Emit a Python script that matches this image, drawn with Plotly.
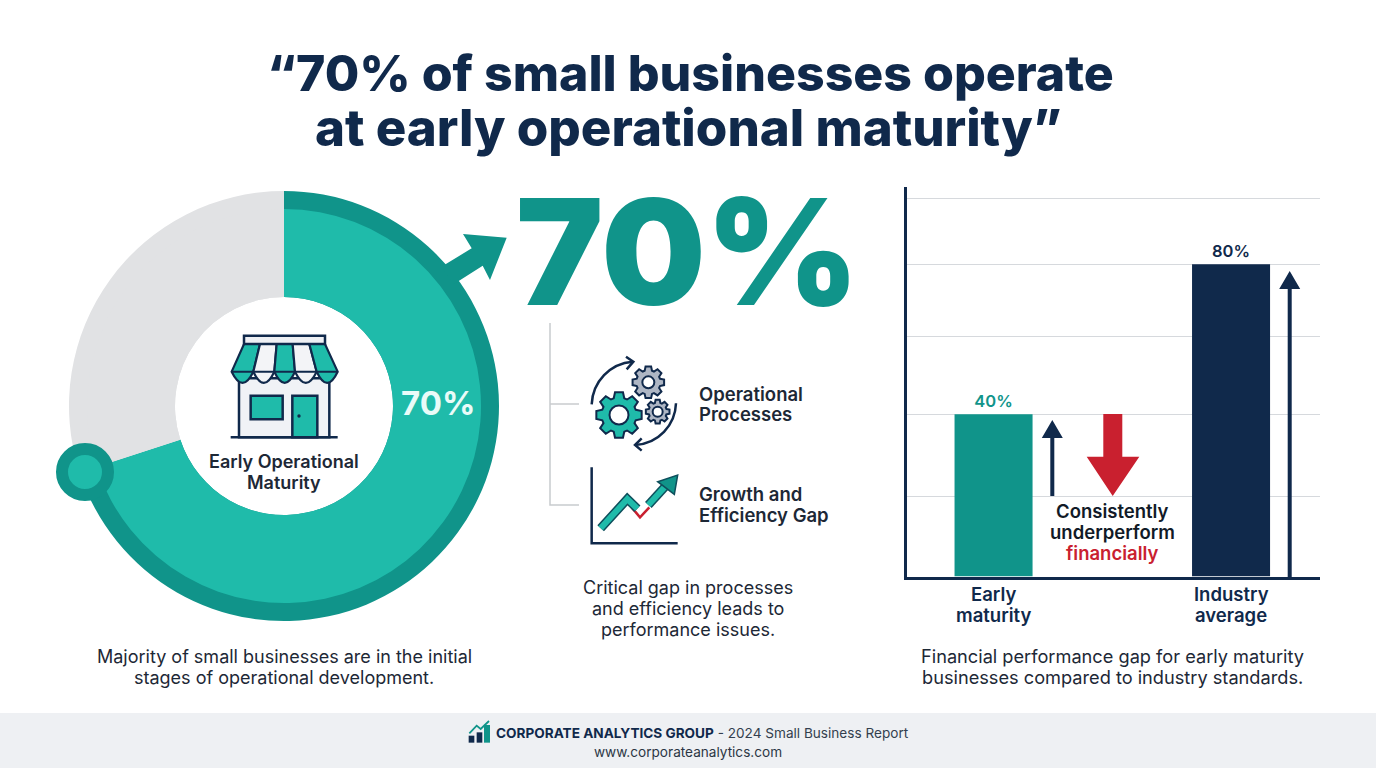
import math
import plotly.graph_objects as go

W = 1376
H = 768

TEAL = "#10948A"
LIGHT_TEAL = "#1FBBAA"
NAVY = "#10294B"
GREY = "#E1E2E4"
GRID = "#D6D9DD"
RED = "#C9202F"
INK = "#1D2836"
FONT = "Inter"

# donut
share_labels = ["Early operational maturity", "Other"]
share_values = [70, 30]

bar_categories = ["Early maturity", " ", "Industry average"]
bar_values = [41.6, None, 80]
bar_labels = ["40%", "", "80%"]
grid_values = [20.6, 41.6, 61.6, 80, 96.9]
y_top = 99.8

title_lines = ["“70% of small businesses operate", "at early operational maturity”"]
left_caption = ["Majority of small businesses are in the initial", "stages of operational development."]
mid_caption = ["Critical gap in processes", "and efficiency leads to", "performance issues."]
right_caption = ["Financial performance gap for early maturity", "businesses compared to industry standards."]
callout = ["Consistently", "underperform"]

shapes = []
annotations = []


def px(x):
    return x / W


def py(y):
    return 1 - y / H


def path(cmds, fill=None, line=None, width=0):
    # cmds is a list of (letter, [x, y, x, y...]) in screen pixels
    d = ""
    for letter, nums in cmds:
        d += letter
        pairs = []
        for i in range(0, len(nums), 2):
            pairs.append(f"{px(nums[i]):.5f},{py(nums[i + 1]):.5f}")
        d += " ".join(pairs)
    shape = {"type": "path", "path": d, "xref": "paper", "yref": "paper"}
    shape["fillcolor"] = fill if fill else "rgba(0,0,0,0)"
    shape["line"] = {"color": line if line else "rgba(0,0,0,0)", "width": width}
    shapes.append(shape)


def poly(pts, fill=None, line=None, width=0, close=True):
    cmds = [("M", list(pts[0]))]
    for p in pts[1:]:
        cmds.append(("L", list(p)))
    if close:
        cmds.append(("Z", []))
    path(cmds, fill, line, width)


def rect(x0, y0, x1, y1, fill=None, line=None, width=0):
    poly([(x0, y0), (x1, y0), (x1, y1), (x0, y1)], fill, line, width)


def circle(cx, cy, r, fill=None, line=None, width=0):
    shapes.append(
        {
            "type": "circle",
            "xref": "paper",
            "yref": "paper",
            "x0": px(cx - r),
            "x1": px(cx + r),
            "y0": py(cy + r),
            "y1": py(cy - r),
            "fillcolor": fill if fill else "rgba(0,0,0,0)",
            "line": {"color": line if line else "rgba(0,0,0,0)", "width": width},
        }
    )


def label(text, x, y, size, color=INK, weight=400, anchor="center"):
    annotations.append(
        {
            "text": text,
            "x": px(x),
            "y": py(y),
            "xref": "paper",
            "yref": "paper",
            "showarrow": False,
            "xanchor": anchor,
            "yanchor": "middle",
            "font": {"family": FONT, "size": size, "color": color, "weight": weight},
        }
    )


def category_label(category):
    # two line tick label tied to the bar's category, tighter than a real tick label allows
    for i, word in enumerate(category.split(" ")):
        annotations.append(
            {
                "text": word,
                "x": category,
                "y": py(594 + 21 * i),
                "xref": "x",
                "yref": "paper",
                "showarrow": False,
                "xanchor": "center",
                "yanchor": "middle",
                "font": {"family": FONT, "size": 18.5, "color": NAVY, "weight": 600},
            }
        )


def up_arrow(x, y_bottom, y_tip, shaft, head, head_len, color):
    poly(
        [
            (x - shaft / 2, y_bottom),
            (x - shaft / 2, y_tip + head_len),
            (x - head / 2, y_tip + head_len),
            (x, y_tip),
            (x + head / 2, y_tip + head_len),
            (x + shaft / 2, y_tip + head_len),
            (x + shaft / 2, y_bottom),
        ],
        fill=color,
    )


def gear(cx, cy, r, hole, teeth, fill):
    pts = []
    step = 2 * math.pi / teeth
    for i in range(teeth):
        a = i * step
        for off, rad in [(-0.30, 0.76), (-0.17, 1.0), (0.17, 1.0), (0.30, 0.76)]:
            pts.append((cx + rad * r * math.cos(a + off * step * 1.3), cy + rad * r * math.sin(a + off * step * 1.3)))
    poly(pts, fill=fill, line=NAVY, width=2)
    circle(cx, cy, hole, fill="white", line=NAVY, width=2)


def store_icon():
    sx = lambda v: v / 3 + 40
    sy = lambda v: v / 3 + 170
    rect(sx(597), sy(625), sx(868), sy(802), fill="#F0F2F6", line=NAVY, width=2.5)
    top = [612, 660, 710, 758, 808, 855]
    bot = [575, 640, 703, 765, 830, 893]
    for i in range(5):
        color = LIGHT_TEAL if i % 2 == 0 else "#F3F4F7"
        mid = (bot[i] + bot[i + 1]) / 2
        path(
            [
                ("M", [sx(top[i]), sy(522)]),
                ("L", [sx(top[i + 1]), sy(522)]),
                ("L", [sx(bot[i + 1]), sy(605)]),
                ("Q", [sx(mid), sy(672), sx(bot[i]), sy(605)]),
                ("Z", []),
            ],
            fill=color,
            line=NAVY,
            width=2.2,
        )
    rect(sx(612), sy(497), sx(855), sy(522), fill="#EEF0F4", line=NAVY, width=2.5)
    poly([(sx(575), sy(605)), (sx(893), sy(605))], line=NAVY, width=2, close=False)
    rect(sx(632), sy(677), sx(728), sy(748), fill=LIGHT_TEAL, line=NAVY, width=2.5)
    rect(sx(757), sy(677), sx(832), sy(802), fill=LIGHT_TEAL, line=NAVY, width=2.5)
    circle(sx(777), sy(738), 1.7, fill=NAVY)
    poly([(sx(572), sy(802)), (sx(893), sy(802))], line=NAVY, width=2.5, close=False)


def gears_icon():
    sx = lambda v: v / 3 + 530
    sy = lambda v: v / 3 + 310
    gear(sx(267), sy(315), 23, 9.5, 8, LIGHT_TEAL)
    gear(sx(355), sy(217), 16, 6, 8, "#AEB6C4")
    gear(sx(383), sy(305), 12, 5, 8, "#AEB6C4")
    # circular arrows around the gears
    path(
        [("M", [sx(185), sy(283)]), ("C", [sx(188), sy(215), sx(240), sy(160), sx(308), sy(155)])],
        line=NAVY,
        width=2.5,
    )
    poly([(sx(288), sy(140)), (sx(310), sy(155)), (sx(290), sy(178))], line=NAVY, width=2.5, close=False)
    path(
        [("M", [sx(438), sy(280)]), ("C", [sx(436), sy(345), sx(385), sy(402), sx(315), sy(405)])],
        line=NAVY,
        width=2.5,
    )
    poly([(sx(335), sy(385)), (sx(315), sy(405)), (sx(335), sy(422))], line=NAVY, width=2.5, close=False)


def growth_icon():
    sx = lambda v: v / 3 + 530
    sy = lambda v: v / 3 + 310
    band = "#0E4F5C"
    poly([(sx(185), sy(472)), (sx(185), sy(700)), (sx(443), sy(700))], line=NAVY, width=2.5, close=False)
    poly([(sx(305), sy(592)), (sx(330), sy(622)), (sx(358), sy(592))], line=RED, width=2.5, close=False)
    poly([(sx(212), sy(655)), (sx(292), sy(567)), (sx(322), sy(596))], line=band, width=9, close=False)
    poly([(sx(212), sy(655)), (sx(292), sy(567)), (sx(322), sy(596))], line=LIGHT_TEAL, width=6, close=False)
    poly([(sx(355), sy(585)), (sx(405), sy(530))], line=band, width=9, close=False)
    poly([(sx(355), sy(585)), (sx(405), sy(530))], line=LIGHT_TEAL, width=6, close=False)
    poly([(sx(443), sy(495)), (sx(433), sy(553)), (sx(383), sy(515))], fill=TEAL, line=band, width=1.5)


def footer():
    rect(0, 713, W, H, fill="#EEF0F3")
    sx = lambda v: v / 3 + 440
    sy = lambda v: v / 3 + 705
    rect(sx(86), sy(92), sx(103), sy(113), fill=NAVY)
    rect(sx(110), sy(82), sx(127), sy(113), fill=NAVY)
    rect(sx(132), sy(60), sx(150), sy(113), fill=TEAL)
    poly([(sx(88), sy(85)), (sx(110), sy(62)), (sx(122), sy(72)), (sx(147), sy(48))], line=TEAL, width=1.8, close=False)
    label(
        "<b>CORPORATE ANALYTICS GROUP</b>"
        + "<span style='color:#333f4e'> - 2024 Small Business Report</span>",
        702.5,
        733,
        13.6,
        color=NAVY,
    )
    label("www.corporateanalytics.com", 688, 752, 13.6, color="#2B3644")


fig = go.Figure()

# outer ring, then the lighter fill on top of it
fig.add_trace(
    go.Pie(
        labels=share_labels,
        values=share_values,
        sort=False,
        direction="clockwise",
        rotation=0,
        hole=109 / 215,
        textinfo="none",
        marker={"colors": [TEAL, GREY], "line": {"width": 0}},
        domain={"x": [px(284 - 215), px(284 + 215)], "y": [py(406 + 215), py(406 - 215)]},
        showlegend=False,
    )
)
fig.add_trace(
    go.Pie(
        labels=share_labels,
        values=share_values,
        sort=False,
        direction="clockwise",
        rotation=0,
        hole=109 / 197,
        textinfo="none",
        marker={"colors": [LIGHT_TEAL, GREY], "line": {"width": 0}},
        domain={"x": [px(284 - 197), px(284 + 197)], "y": [py(406 + 197), py(406 - 197)]},
        showlegend=False,
    )
)

fig.add_trace(
    go.Bar(
        x=bar_categories,
        y=bar_values,
        text=bar_labels,
        textposition="outside",
        textfont={"family": FONT, "size": 16.5, "color": [TEAL, NAVY, NAVY], "weight": 600},
        cliponaxis=False,
        marker={"color": [TEAL, NAVY, NAVY], "line": {"width": 0}},
        width=0.657,
        showlegend=False,
    )
)

# ring arrow and the knob where the ring ends
poly(
    [
        (441, 267),
        (471.7, 248.3),
        (463, 234),
        (506.7, 237.7),
        (490, 280),
        (482.7, 265.7),
        (454, 284),
    ],
    fill=TEAL,
)
circle(85, 472, 23, fill=LIGHT_TEAL, line=TEAL, width=12)

store_icon()
gears_icon()
growth_icon()

# bracket in the middle column
poly([(550, 323), (550, 505), (579, 505)], line="#C8CBCE", width=1.5, close=False)
poly([(550, 404), (579, 404)], line="#C8CBCE", width=1.5, close=False)

# arrows beside the bars
up_arrow(1052.3, 496, 420, 4, 21, 18, NAVY)
up_arrow(1289.7, 578, 271, 4, 21, 18, NAVY)
poly(
    [
        (1103.3, 414),
        (1122.3, 414),
        (1122.3, 456.7),
        (1139.3, 456.7),
        (1112.7, 496),
        (1086.7, 456.7),
        (1103.3, 456.7),
    ],
    fill=RED,
)

footer()

label(title_lines[0], 690, 73, 50, color=NAVY, weight=800)
label(title_lines[1], 688, 127, 51, color=NAVY, weight=800)

label(f"{share_values[0]}%", 437.5, 403, 33, color="#E9FBF8", weight=700)
label("Early Operational", 284, 461, 18, weight=600)
label("Maturity", 284, 482, 18, weight=600)
label(f"{share_values[0]}%", 687, 251, 147, color=TEAL, weight=900)
label("Operational", 697, 393.5, 18.5, weight=600, anchor="left")
label("Processes", 697, 414, 18.5, weight=600, anchor="left")
label("Growth and", 697, 494, 18.5, weight=600, anchor="left")
label("Efficiency Gap", 697, 515, 18.5, weight=600, anchor="left")
for i, line in enumerate(left_caption):
    label(line, 284, 656 + 21 * i, 18)
for i, line in enumerate(mid_caption):
    label(line, 688, 587 + 21 * i, 18)
for i, line in enumerate(right_caption):
    label(line, 1112, 656 + 21 * i, 18.2)
for i, line in enumerate(callout):
    label(line, 1112, 511 + 21 * i, 18.5, color="#111a27", weight=600)
label("financially", 1112, 553, 18.5, color=RED, weight=600)
category_label(bar_categories[0])
category_label(bar_categories[2])

fig.update_layout(
    width=W,
    height=H,
    margin={"l": 0, "r": 0, "t": 0, "b": 0},
    paper_bgcolor="white",
    plot_bgcolor="white",
    shapes=shapes,
    annotations=annotations,
    xaxis={
        "domain": [px(906.5), px(1320)],
        "type": "category",
        "categoryorder": "array",
        "categoryarray": bar_categories,
        "range": [-0.733, 2.749],
        "showline": True,
        "linecolor": NAVY,
        "linewidth": 3,
        "showgrid": False,
        "ticks": "",
        "showticklabels": False,
    },
    yaxis={
        "domain": [py(576.5), py(187)],
        "range": [0, y_top],
        "tickmode": "array",
        "tickvals": grid_values,
        "showticklabels": False,
        "showgrid": True,
        "gridcolor": GRID,
        "gridwidth": 1,
        "zeroline": False,
        "showline": True,
        "linecolor": NAVY,
        "linewidth": 3,
        "ticks": "",
    },
)

fig.write_html(
    "out.html",
    config={"displayModeBar": False},
    post_script="document.body.style.margin='0';document.body.style.overflow='hidden';",
)
